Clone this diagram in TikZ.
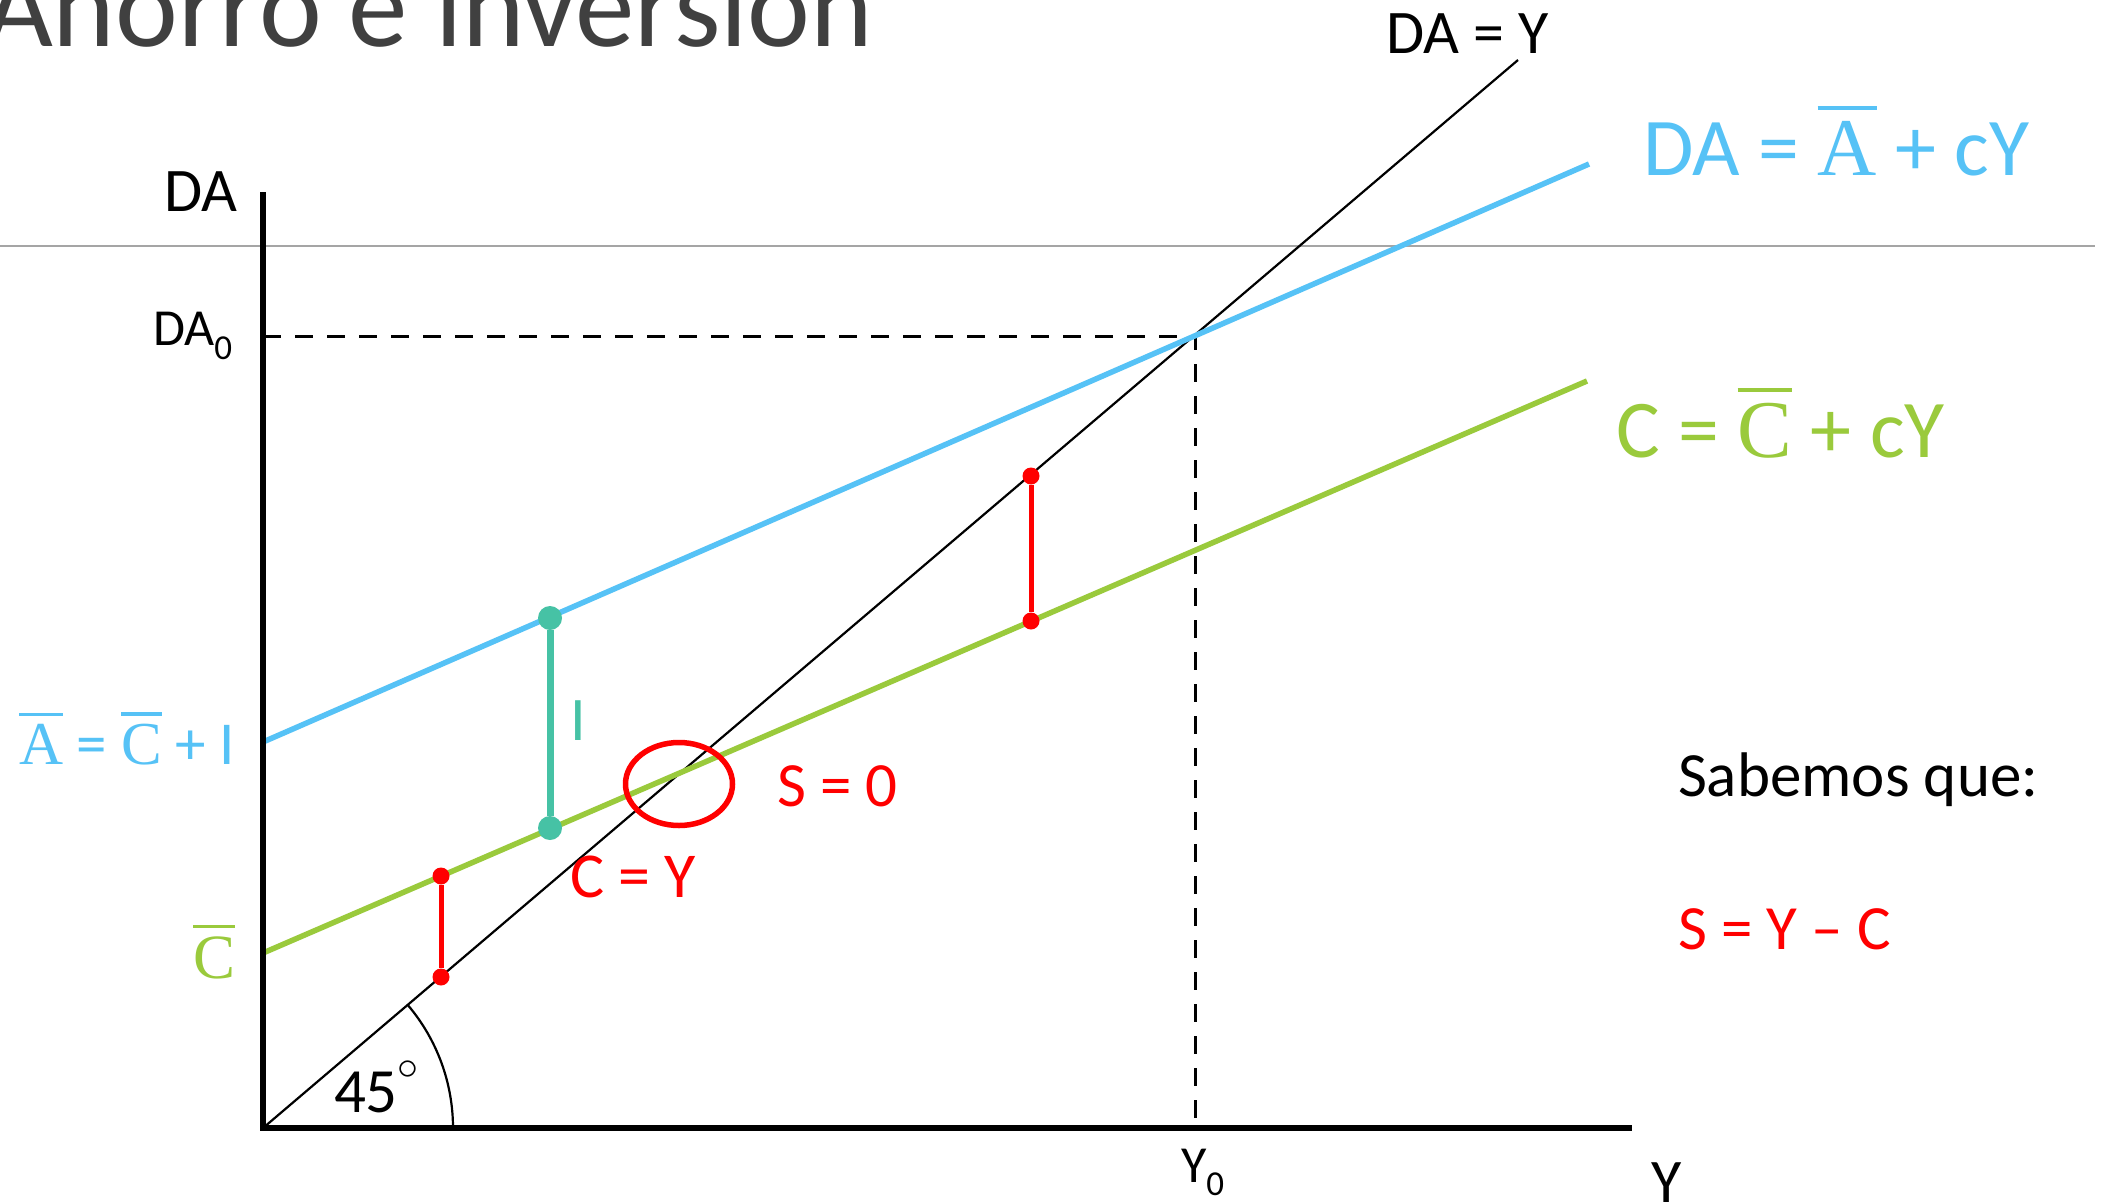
\documentclass[tikz,border=0pt]{standalone}
\usepackage{fix-cm}
\usepackage{fontspec}
\setmainfont{Carlito}
\newfontfamily\serifm{Liberation Serif}
\usetikzlibrary{shapes.geometric}
\definecolor{skyb}{RGB}{86,194,246}
\definecolor{grn}{RGB}{154,202,60}
\definecolor{tealc}{RGB}{70,194,165}
\definecolor{redc}{RGB}{255,0,0}
\definecolor{titlegray}{RGB}{64,64,64}
\definecolor{rulegray}{RGB}{165,165,165}
\newcommand\fs[1]{\fontsize{#1}{#1}\selectfont}
\newcommand\barl[1]{{\setbox0\hbox{\serifm #1}\rlap{\raisebox{1.2\ht0}{\rule{\wd0}{0.05em}}}\box0}}
\begin{document}
\begin{tikzpicture}[x=1pt,y=-1pt,
  lbl/.style={inner sep=0pt,outer sep=0pt,anchor=base west},
  axisline/.style={line width=6pt,line join=miter},
  dashline/.style={line width=3pt,dash pattern=on 18pt off 14pt},
  curve/.style={line width=5.5pt},
  thinline/.style={line width=2.2pt},
  tdot/.style={circle,fill=tealc,inner sep=0pt,minimum size=24pt},
  rdot/.style={circle,fill=redc,inner sep=0pt,minimum size=17pt},
  tseg/.style={tealc,line width=7pt},
  rseg/.style={redc,line width=5pt}]
\useasboundingbox[fill=white] (0,0) rectangle (2103,1202);
% title and rule
\node[lbl,text=titlegray] (title) at (-16,46) {\fs{119}Ahorro e inversión};
\coordinate (gl1) at (0,246);
\coordinate (gl2) at (2095,246);
\draw[rulegray,line width=2pt] (gl1) -- (gl2);
% key points
\coordinate (O) at (263,1128);
\coordinate (Ytop) at (263,192);
\coordinate (Xend) at (1632,1128);
\coordinate (DAo) at (263,336);
\coordinate (E) at (1195,336);
\coordinate (Yo) at (1195,1128);
\coordinate (Lend) at (1518,60);
\coordinate (Ba) at (263,742);
\coordinate (Bb) at (1589,164);
\coordinate (Ga) at (263,953);
\coordinate (Gb) at (1587,381);
% dashed guides
\draw[dashline] (DAo) -- (E) -- (Yo);
% lines
\draw[thinline] (O) -- (Lend);
\draw[curve,skyb] (Ba) -- (Bb);
\draw[curve,grn] (Ga) -- (Gb);
% axes
\draw[axisline] (Ytop) -- (O) -- (Xend);
% angle arc
\draw[thinline] (O) ++(190,0) arc[start angle=0,end angle=-40.3,radius=190];
% I segment
\node[tdot] (i1) at (550,618) {};
\node[tdot] (i2) at (550,828) {};
\draw[tseg] (i1) -- (i2);
% red segments
\node[rdot] (r1t) at (441,876) {};
\node[rdot] (r1b) at (441,977) {};
\draw[rseg] (r1t) -- (r1b);
\node[rdot] (r2t) at (1031,476) {};
\node[rdot] (r2b) at (1031,621) {};
\draw[rseg] (r2t) -- (r2b);
% ellipse
\node[ellipse,draw=redc,line width=5.5pt,minimum width=107pt,minimum height=83pt,inner sep=0pt] (ell) at (679,784) {};
% labels
\node[lbl] (lDAY) at (1386,53) {\fs{62}DA = Y};
\node[lbl,text=skyb] (lDA) at (1643,175) {\fs{82}DA = \barl{A} + cY};
\node[lbl,text=grn] (lC) at (1616,457) {\fs{82}C = \barl{C} + cY};
\node[lbl] (lSab) at (1678,796) {\fs{63}Sabemos que:};
\node[lbl,text=redc] (lS) at (1678,949) {\fs{63}S = Y – C};
\node[lbl,text=redc] (lS0) at (777,806) {\fs{63}S = 0};
\node[lbl,text=redc] (lCY) at (570,897) {\fs{64}C = Y};
\node[inner sep=0pt,anchor=base,text=tealc] (lI) at (578,740) {\fs{62}I};
\node[lbl,text=skyb] (lA) at (19,764) {\fs{61}\barl{A} = \barl{C} + I};
\node[lbl,text=grn] (lCb) at (193,978) {\fs{63}\barl{C}};
\node[lbl] (lDAax) at (164,211) {\fs{62}DA};
\node[lbl] (lDA0) at (153,345) {\fs{52}DA\raisebox{-14pt}{\fs{35}0}};
\node[lbl] (lY0) at (1181,1182) {\fs{52}Y\raisebox{-13pt}{\fs{35}0}};
\node[lbl] (lYax) at (1651,1202) {\fs{62}Y};
\node[lbl] (l45) at (334,1112) {\fs{63}45\raisebox{33pt}{\fs{42}$\circ$}};
\end{tikzpicture}
\end{document}
